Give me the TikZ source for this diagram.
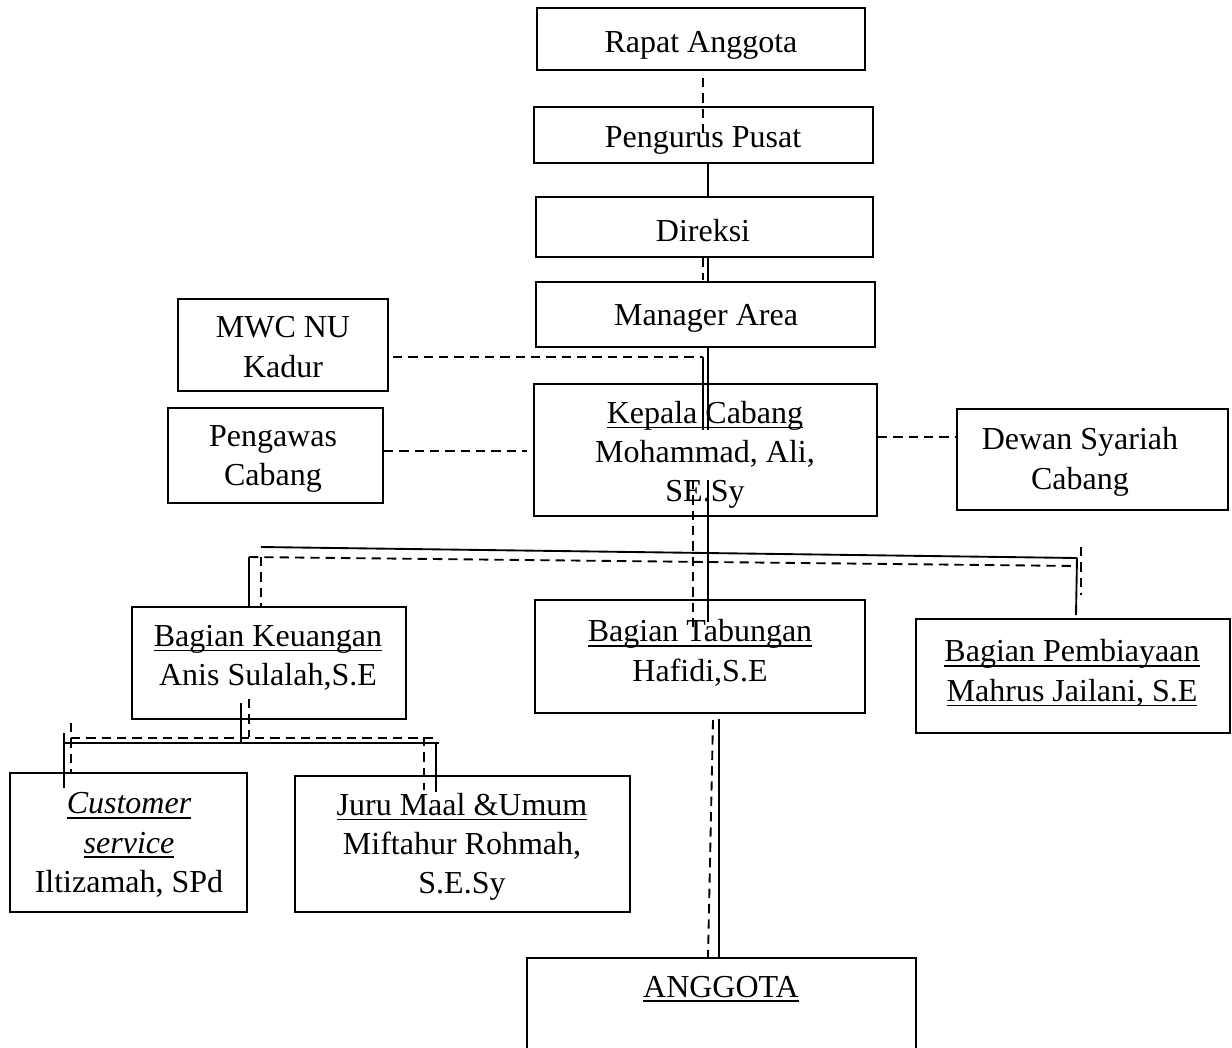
\documentclass[tikz,border=0pt]{standalone}
\usepackage{fontspec}
\setmainfont{Liberation Serif}
\newsavebox{\myulbox}
\newcommand{\myul}[1]{\sbox{\myulbox}{#1}\rlap{\rule[-3.6pt]{\wd\myulbox}{1.2pt}}\usebox{\myulbox}}
\usetikzlibrary{fit,calc}
\tikzset{
  box/.style={draw, line width=1.6pt, inner sep=0pt},
  lbl/.style={align=center, inner sep=0pt, font=\fontsize{24}{29.5}\selectfont},
  sl/.style={line width=1.4pt},
  dl/.style={line width=1.4pt, dash pattern=on 7pt off 4.5pt},
}
\begin{document}
\begin{tikzpicture}[x=0.75pt,y=-0.75pt]
\useasboundingbox (0,0) rectangle (1232,1047);
% boxes
\node[box, fit={(537,8) (865,70)}] (ra) {};
\node[box, fit={(534,107) (873,163)}] (pp) {};
\node[box, fit={(536,197) (873,257)}] (dir) {};
\node[box, fit={(536,282) (875,347)}] (ma) {};
\node[box, fit={(178,299) (388,391)}] (mwc) {};
\node[box, fit={(168,408) (383,503)}] (peng) {};
\node[box, fit={(534,384) (877,516)}] (kc) {};
\node[box, fit={(957,409) (1228,510)}] (dsc) {};
\node[box, fit={(132,607) (406,719)}] (keu) {};
\node[box, fit={(535,600) (865,713)}] (tab) {};
\node[box, fit={(916,619) (1230,733)}] (pem) {};
\node[box, fit={(10,773) (247,912)}] (cs) {};
\node[box, fit={(295,776) (630,912)}] (jm) {};
\node[box, fit={(527,958) (916,1080)}] (ang) {};
% labels
\node[lbl] (tra) at (701,45) {Rapat Anggota};
\node[lbl] (tpp) at (703,140) {Pengurus Pusat};
\node[lbl] (tdir) at (703,231) {Direksi};
\node[lbl] (tma) at (706,318) {Manager Area};
\node[lbl] (tmwc) at (283,347) {MWC NU\\Kadur};
\node[lbl] (tpeng) at (273,459) {Pengawas\\Cabang};
\node[lbl] (tkc) at (705,455) {\myul{Kepala Cabang}\\Mohammad, Ali,\\SE.Sy};
\node[lbl] (tdsc) at (1080,462) {Dewan Syariah\\Cabang};
\node[lbl] (tkeu) at (268,658) {\myul{Bagian Keuangan}\\Anis Sulalah,S.E};
\node[lbl] (ttab) at (700,653) {\myul{Bagian Tabungan}\\Hafidi,S.E};
\node[lbl] (tpem) at (1072,673) {\myul{Bagian Pembiayaan}\\\myul{Mahrus Jailani, S.E}};
\node[lbl] (tcs) at (129,845) {\myul{\itshape Customer}\\\myul{\itshape service}\\Iltizamah, SPd};
\node[lbl] (tjm) at (462,847) {\myul{Juru Maal \&Umum}\\Miftahur Rohmah,\\S.E.Sy};
\node[lbl] (tang) at (721,989) {\myul{ANGGOTA}};
% coordinates for junctions
\coordinate (hL) at (249,557);
\coordinate (hLs) at (261,547);
\coordinate (hR) at (1077,558);
\coordinate (hRd) at (1077,566);
\coordinate (kL) at (63,743);
\coordinate (kR) at (439,743);
\coordinate (kLd) at (71,738);
\coordinate (kRd) at (437,738);
% top chain
\draw[dl] (ra.south -| 703,0) ++(0,7) -- (703,135);
\draw[sl] (pp.south -| 708,0) -- (dir.north -| 708,0);
\draw[dl] (dir.south -| 703,0) -- (703,280);
\draw[sl] (dir.south -| 708,0) -- (ma.north -| 708,0);
\draw[sl] (ma.south -| 708,0) -- (708,430);
\draw[dl] (mwc.east |- 0,357) ++(4,0) -- (703,357);
\draw[sl] (703,357) -- (703,430);
\draw[dl] (peng.east |- 0,451) -- (527,451);
\draw[dl] (kc.east |- 0,437) -- (dsc.west |- 0,437);
% Kepala to bagian
\draw[sl] (708,480) -- (708,622);
\draw[dl] (693,480) -- (693,628);
\draw[sl] (hLs) -- (hR);
\draw[sl] (keu.north -| hL) -- (hL);
\draw[dl] (hL) -- (hRd);
\draw[dl] (hLs |- hL) -- (keu.north -| hLs);
\draw[sl] (hR) -- (1076,615);
\draw[dl] (1081,547) -- (1081,595);
% Keuangan to sub
\draw[sl] (241,703) -- (241,743);
\draw[dl] (249,699) -- (249,737);
\draw[sl] (kL) -- (kR);
\draw[dl] (kLd) -- (kRd);
\draw[sl] (64,733) -- (64,788);
\draw[dl] (71,723) -- (71,772);
\draw[sl] (436,743) -- (436,792);
\draw[dl] (424,737) -- (424,790);
% Tabungan to Anggota
\draw[dl] (713,720) -- (ang.north -| 708,0);
\draw[sl] (719,719) -- (ang.north -| 719,0);
\end{tikzpicture}
\end{document}
